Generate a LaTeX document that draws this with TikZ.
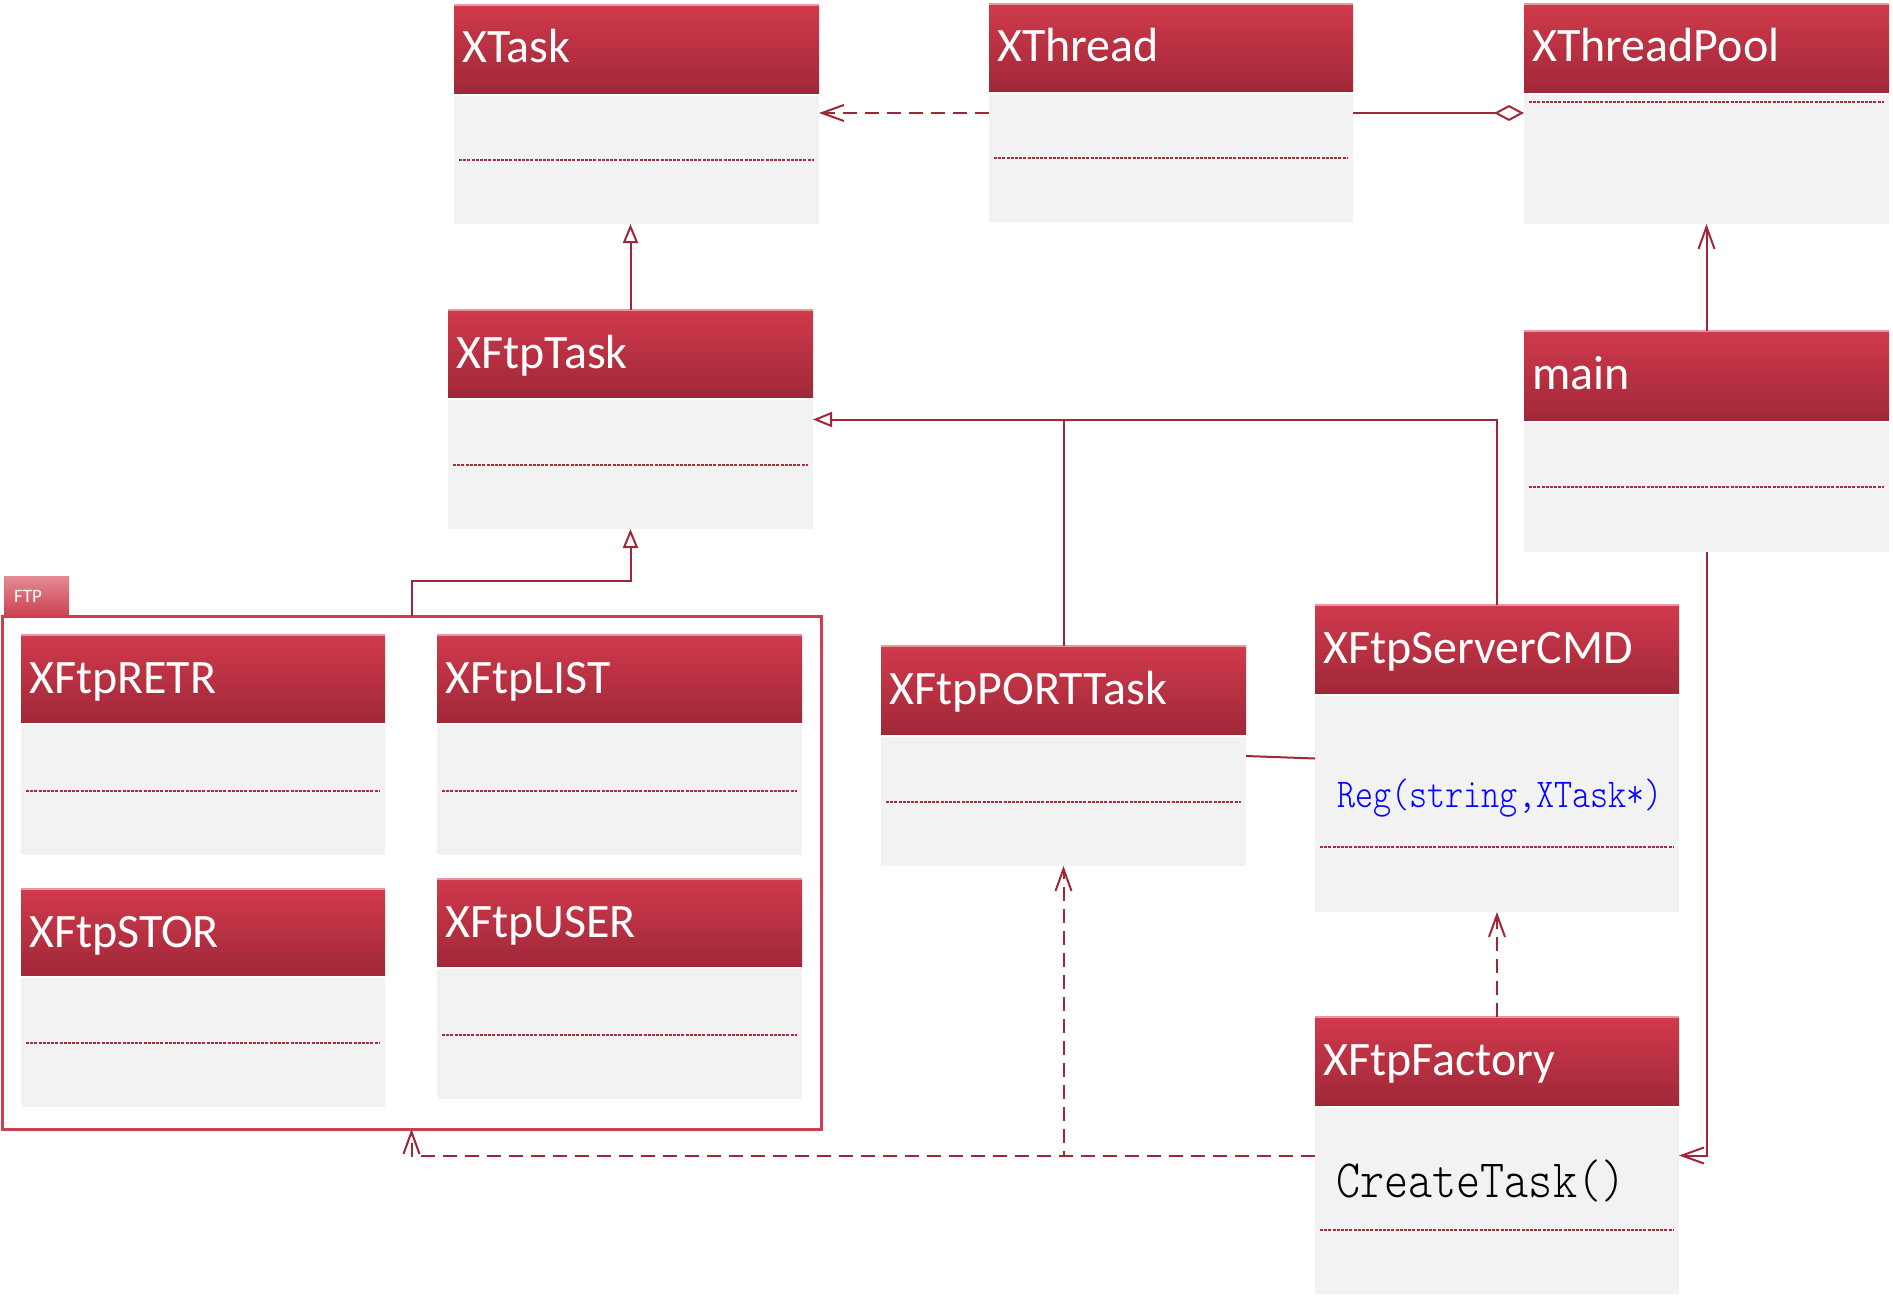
\documentclass[tikz,border=0pt]{standalone}
\usepackage{fontspec}
\setmainfont{Carlito}
\newfontfamily\lightmono{Latin Modern Mono Light}
\usepackage{graphicx}
\usetikzlibrary{arrows.meta,calc}
\definecolor{hdrtop}{RGB}{208,58,76}
\definecolor{hdrbot}{RGB}{160,40,56}
\definecolor{hdredge}{RGB}{232,150,160}
\definecolor{bodyfill}{RGB}{242,242,242}
\definecolor{linecol}{RGB}{160,38,56}
\definecolor{divcol}{RGB}{170,45,60}
\definecolor{framecol}{RGB}{205,62,78}
\definecolor{tabtop}{RGB}{228,138,148}
\definecolor{tabbot}{RGB}{205,68,82}
\tikzset{
  hdredgeline/.style={draw=hdredge, line width=1.5pt},
  divider/.style={draw=divcol, line width=2.2pt, dash pattern=on 3pt off 1.2pt},
  boxnode/.style={rectangle, inner sep=0pt, outer sep=0pt},
  titletext/.style={anchor=base west, text=white, inner sep=0pt, font=\fontsize{48}{50}\selectfont},
  conn/.style={draw=linecol, line width=2pt},
  vtip/.style={-{Straight Barb[length=22pt,width=16pt]}},
  dep/.style={conn, dash pattern=on 14pt off 8pt, vtip},
  assoc/.style={conn, vtip},
  inh/.style={conn, -{Triangle[open, fill=white, length=19pt, width=15pt]}},
  agg/.style={conn, -{Diamond[open, fill=white, length=30pt, width=16pt]}},
  plain/.style={conn},
}
% #1 name, #2 x1, #3 y1, #4 x2, #5 header bottom, #6 y2, #7 divider y, #8 title
\newcommand\clsbox[8]{%
  \shade[top color=hdrtop, bottom color=hdrbot] (#2,#3) rectangle (#4,#5);
  \draw[hdredgeline] (#2,#3) -- (#4,#3);
  \fill[bodyfill] (#2,{#5+3}) rectangle (#4,#6);
  \draw[divider] ({#2+5},#7) -- ({#4-5},#7);
  \node[boxnode, minimum width={(#4-#2)*1pt}, minimum height={(#6-#3)*1pt}] (#1) at ({(#2+#4)/2},{(#3+#6)/2}) {};
  \node[titletext] (#1-title) at ({#2+8},{#3+58}) {#8};
}
\begin{document}
\begin{tikzpicture}[x=1pt,y=-1pt]
\useasboundingbox (0,0) rectangle (1893,1298);
\fill[white] (0,0) rectangle (1893,1298);

\clsbox{XTask}{454}{5}{819}{93}{224}{160}{XTask}
\clsbox{XThread}{989}{4}{1353}{91}{222}{158}{XThread}
\clsbox{XThreadPool}{1524}{4}{1889}{92}{224}{102}{XThreadPool}
\clsbox{XFtpTask}{448}{310}{813}{397}{529}{465}{XFtpTask}
\clsbox{main}{1524}{331}{1889}{420}{552}{487}{main}
\clsbox{XFtpRETR}{21}{635}{385}{722}{855}{791}{XFtpRETR}
\clsbox{XFtpLIST}{437}{635}{802}{722}{855}{791}{XFtpLIST}
\clsbox{XFtpSTOR}{21}{889}{385}{975}{1107}{1043}{XFtpSTOR}
\clsbox{XFtpUSER}{437}{879}{802}{966}{1099}{1035}{XFtpUSER}
\clsbox{XFtpPORTTask}{881}{646}{1246}{734}{866}{802}{XFtpPORTTask}
\clsbox{XFtpServerCMD}{1315}{605}{1679}{693}{912}{847}{XFtpServerCMD}
\clsbox{XFtpFactory}{1315}{1017}{1679}{1105}{1294}{1230}{XFtpFactory}

% body texts
\node[anchor=base west, inner sep=0pt, text=blue] (regtext) at (1337,807)
  {\scalebox{0.84}[1]{\fontsize{41}{41}\selectfont\lightmono Reg(string,XTask*)}};
\node[anchor=base west, inner sep=0pt, text=black] (createtext) at (1336,1197)
  {\scalebox{0.85}[1]{\fontsize{54}{54}\selectfont\lightmono CreateTask()}};

% FTP package
\shade[top color=tabtop, bottom color=tabbot] (4,576) rectangle (69,615);
\node[anchor=base west, inner sep=0pt, text=white, font=\fontsize{19}{20}\selectfont] (ftplabel) at (14,602) {FTP};
\node[boxnode, draw=framecol, line width=3pt, minimum width=819pt, minimum height=513pt] (ftp) at (411.5,872.5) {};

% connectors
\draw[dep] (XThread.west) -- (XTask.east |- XThread.west);
\draw[agg] (XThread.east) -- (XThreadPool.west |- XThread.east);
\draw[inh] (XFtpTask.north) -- (XFtpTask.north |- XTask.south);
\draw[assoc] (main.north) -- (main.north |- XThreadPool.south);
\draw[inh] (ftp.north) -- ++(0,-35) -| (XFtpTask.south);
\draw[inh] (XFtpPORTTask.north) |- (XFtpTask.east);
\draw[plain] (XFtpServerCMD.north) |- (XFtpPORTTask.north |- XFtpTask.east);
\draw[plain] (XFtpPORTTask.east) -- (XFtpServerCMD.west);
\draw[dep] (XFtpFactory.north) -- (XFtpFactory.north |- XFtpServerCMD.south);
\draw[dep] (XFtpFactory.west) -| (XFtpPORTTask.south);
\draw[dep] (XFtpFactory.west) -| (ftp.south);
\draw[assoc] (main.south) |- (XFtpFactory.east);
\end{tikzpicture}
\end{document}
